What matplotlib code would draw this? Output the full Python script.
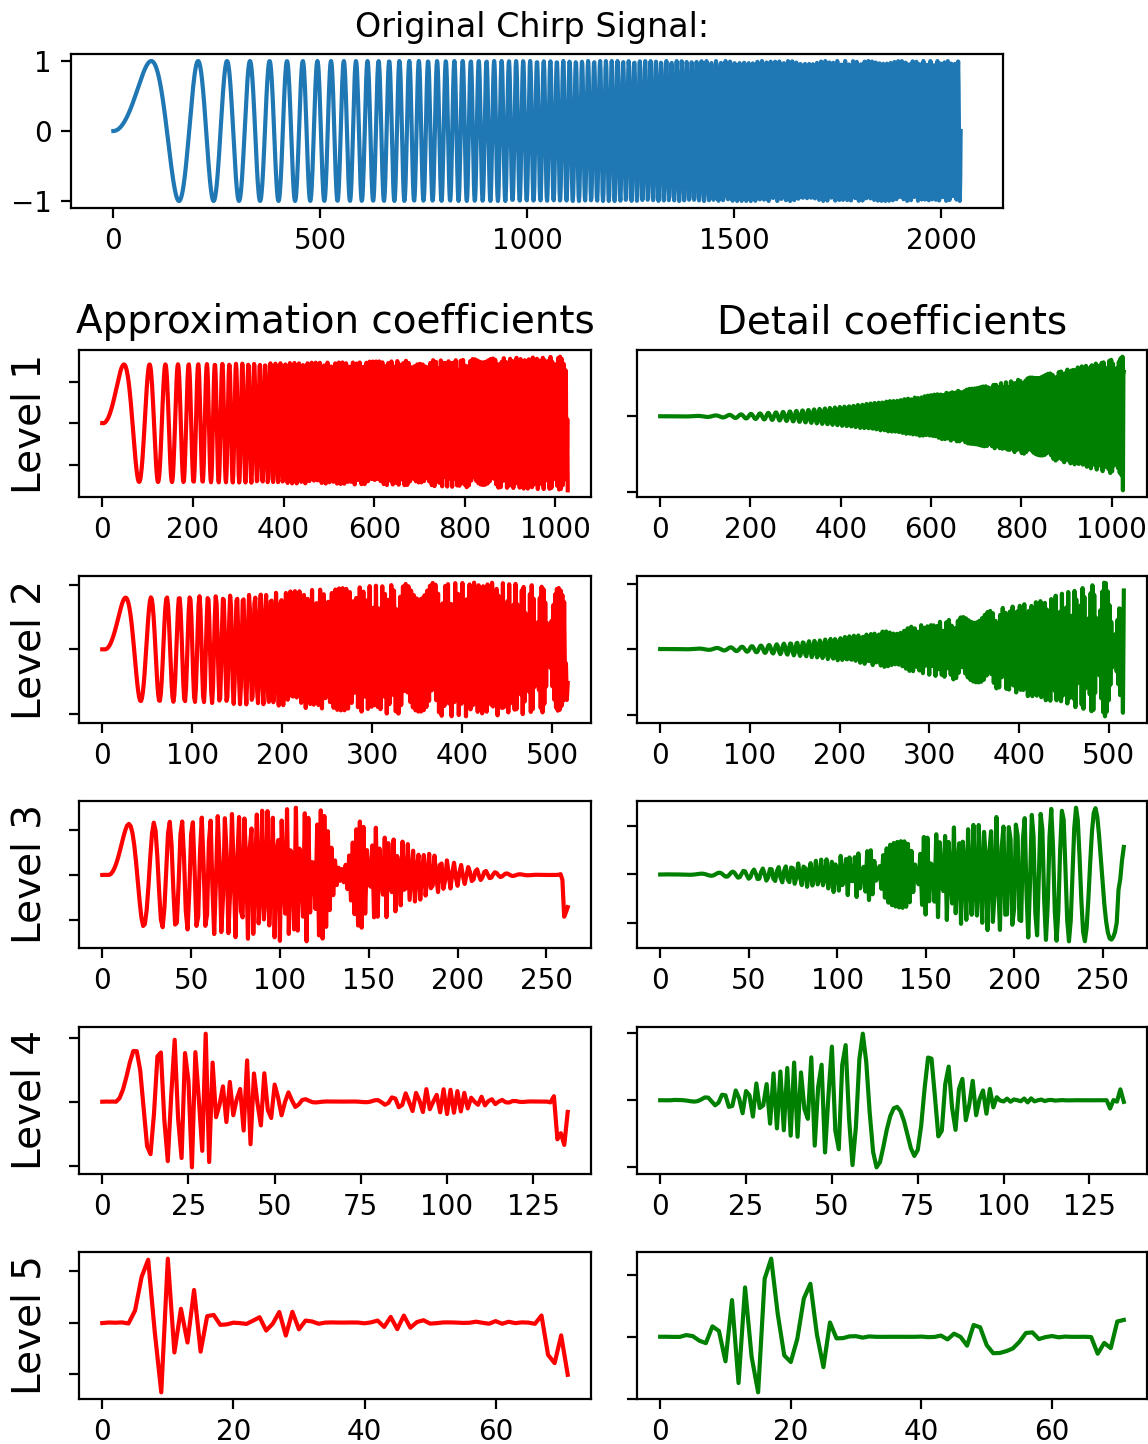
import numpy as np
import matplotlib
matplotlib.use("Agg")
import matplotlib.pyplot as plt

# chirp signal: sin(250*pi*t^2) sampled on 2048 points in [0, 1]
n_samples = 2048
chirp_rate = 250
# bior2.4 decomposition filters (standard coefficients, length 10)
dec_lo = [0.0, 0.03314563036811942, -0.06629126073623884, -0.1767766952966369,
          0.4198446513295126, 0.9943689110435825, 0.4198446513295126,
          -0.1767766952966369, -0.06629126073623884, 0.03314563036811942]
dec_hi = [0.0, 0.0, 0.0, 0.3535533905932738, -0.7071067811865476,
          0.3535533905932738, 0.0, 0.0, 0.0, 0.0]
levels = [1, 2, 3, 4, 5]
col_titles = ["Approximation coefficients", "Detail coefficients"]
main_title = "Original Chirp Signal: "
x_ticks_top = [0, 500, 1000, 1500, 2000]


def dwt(x, lo, hi):
    # single level dwt, 'symmetric' extension like pywt.dwt
    L = len(lo)
    out_len = (len(x) + L - 1) // 2
    xp = np.pad(x, L - 1, mode='symmetric')
    ca = np.convolve(xp, lo)[L::2][:out_len]
    cd = np.convolve(xp, hi)[L::2][:out_len]
    return ca, cd


t = np.linspace(0, 1, num=n_samples)
chirp_signal = np.sin(chirp_rate * np.pi * t ** 2)

W, H = 1148, 1444
dpi = 200
fig = plt.figure(figsize=(W / dpi, H / dpi), dpi=dpi)


def box(x0, y0, x1, y1):
    return [x0 / W, 1 - y1 / H, (x1 - x0) / W, (y1 - y0) / H]


ax = fig.add_axes(box(71, 54, 1003, 208))
ax.plot(chirp_signal)
ax.set_title(main_title)
ax.set_xticks(x_ticks_top)

row_tops = [350, 576, 801, 1027, 1252]
row_h = 147
data = chirp_signal
for ii, lvl in enumerate(levels):
    data, coeff_d = dwt(data, dec_lo, dec_hi)
    y0 = row_tops[ii]
    axa = fig.add_axes(box(79, y0, 591, y0 + row_h))
    axd = fig.add_axes(box(637, y0, 1147, y0 + row_h))
    axa.plot(data, 'r')
    axd.plot(coeff_d, 'g')
    axa.set_ylabel("Level {}".format(lvl), fontsize=14, rotation=90)
    axa.set_yticklabels([])
    axd.set_yticklabels([])
    if ii == 0:
        axa.set_title(col_titles[0], fontsize=14)
        axd.set_title(col_titles[1], fontsize=14)

fig.savefig("out.png", dpi=dpi)
